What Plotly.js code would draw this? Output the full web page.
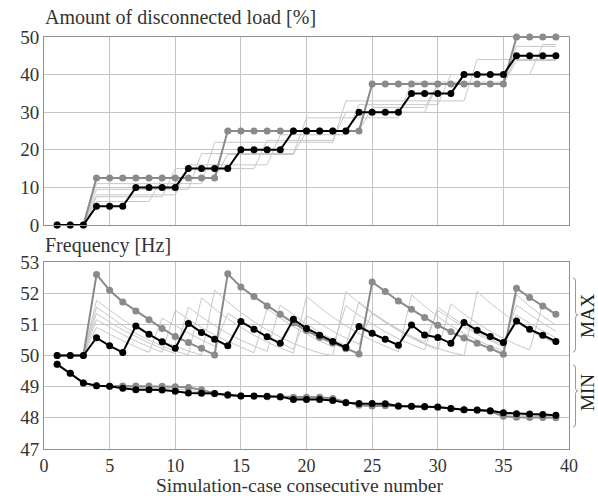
<!DOCTYPE html>
<html>
<head>
<meta charset="utf-8">
<script src="https://cdn.plot.ly/plotly-3.0.1.min.js"></script>
<style>
  html, body { margin: 0; padding: 0; background: #fff; }
  #chart { width: 598px; height: 496px; }
</style>
</head>
<body>
<div id="chart"></div>
<script>
// Simulation cases
const cases = [1,2,3,4,5,6,7,8,9,10,11,12,13,14,15,16,17,18,19,20,21,22,23,24,25,26,27,28,29,30,31,32,33,34,35,36,37,38,39];

// Amount of disconnected load [%]
const loadBlack = [0,0,0, 5,5,5, 10,10,10,10, 15,15,15,15, 20,20,20,20, 25,25,25,25,25, 30,30,30,30, 35,35,35,35, 40,40,40,40, 45,45,45,45];
const loadGray = [0,0,0, 12.5,12.5,12.5,12.5,12.5,12.5,12.5,12.5,12.5,12.5, 25,25,25,25,25,25,25,25,25,25,25, 37.5,37.5,37.5,37.5,37.5,37.5,37.5,37.5,37.5,37.5,37.5, 50,50,50,50];
const loadThinA = [0,0,0, 6.25,6.25,6.25,6.25,6.25, 12.5,12.5,12.5,12.5,12.5, 18.75,18.75,18.75,18.75,18.75,18.75, 25,25,25,25,25, 31.25,31.25,31.25,31.25,31.25, 37.5,37.5,37.5,37.5,37.5,37.5, 43.75,43.75,43.75,43.75];
const loadThinB = [0,0,0, 7.5,7.5,7.5,7.5,7.5,7.5, 15,15,15,15,15,15,15, 22.5,22.5,22.5,22.5,22.5,22.5, 30,30,30,30,30,30,30, 37.5,37.5,37.5,37.5,37.5,37.5, 45,45,45,45];
const loadThinC = [0,0,0, 8,8,8,8,8,8,8, 16,16,16,16,16,16,16, 24,24,24,24,24,24, 32,32,32,32,32,32,32, 40,40,40,40,40,40,40, 48,48];
const loadThinD = [0,0,0, 9.5,9.5,9.5,9.5,9.5,9.5,9.5,9.5, 19,19,19,19,19,19,19,19, 28.5,28.5,28.5,28.5,28.5,28.5,28.5,28.5, 38,38,38,38,38,38,38,38, 47.5,47.5,47.5,47.5];
const loadThinE = [0,0,0, 11,11,11,11,11,11,11,11,11, 22,22,22,22,22,22,22,22,22,22, 33,33,33,33,33,33,33,33,33,33, 44,44,44,44,44,44,44];

// Frequency [Hz] - maximum values
const fMaxBlack = [50,50,50, 50.57,50.31,50.10, 50.95,50.68,50.44,50.23, 51.03,50.74,50.52,50.31, 51.09,50.84,50.60,50.39, 51.16,50.87,50.65,50.45,50.26, 50.93,50.71,50.52,50.33, 50.98,50.66,50.58,50.39, 51.06,50.81,50.61,50.42, 51.11,50.84,50.65,50.45];
const fMaxGray = [50,50,50, 52.60,52.09,51.72,51.43,51.15,50.87,50.61,50.42,50.23,50.02, 52.62,52.20,51.89,51.59,51.32,51.05,50.80,50.58,50.40,50.22,50.05, 52.36,52.05,51.75,51.48,51.22,50.97,50.76,50.56,50.39,50.23,50.04, 52.16,51.86,51.59,51.32];
const fMaxThinA = [50,50,50, 50.90,50.68,50.47,50.28,50.10, 51.20,50.95,50.72,50.50,50.30, 51.35,51.08,50.83,50.60,50.39,50.20, 51.28,51.02,50.78,50.56,50.36, 51.38,51.10,50.85,50.62,50.42, 51.45,51.17,50.91,50.68,50.47,50.28, 51.30,51.03,50.79,50.57];
const fMaxThinB = [50,50,50, 51.15,50.90,50.67,50.46,50.27,50.10, 51.45,51.16,50.90,50.66,50.45,50.26,50.09, 51.50,51.20,50.93,50.69,50.47,50.28, 51.60,51.29,51.01,50.76,50.54,50.35,50.18, 51.55,51.25,50.98,50.74,50.53,50.34, 51.62,51.31,51.03,50.78];
const fMaxThinC = [50,50,50, 51.35,51.07,50.82,50.60,50.40,50.22,50.06, 51.55,51.24,50.96,50.71,50.49,50.30,50.13, 51.62,51.30,51.01,50.75,50.52,50.32, 51.72,51.38,51.08,50.81,50.57,50.36,50.18, 51.66,51.33,51.04,50.78,50.55,50.35,50.18, 51.65,51.32];
const fMaxThinD = [50,50,50, 51.55,51.24,50.96,50.71,50.49,50.30,50.14,50.02, 51.85,51.50,51.18,50.90,50.65,50.43,50.24,50.08, 51.90,51.55,51.23,50.95,50.70,50.48,50.29,50.12, 51.95,51.58,51.25,50.96,50.71,50.49,50.30,50.14, 51.95,51.58,51.26,50.98];
const fMaxThinE = [50,50,50, 51.77,51.45,51.15,50.89,50.66,50.46,50.29,50.14,50.02, 52.10,51.72,51.38,51.08,50.82,50.59,50.39,50.22,50.08,50.00, 52.05,51.68,51.35,51.06,50.80,50.58,50.39,50.23,50.10,50.00, 52.05,51.68,51.35,51.06,50.80,50.58,50.39];

// Frequency [Hz] - minimum values
const fMinBlack = [49.72,49.43,49.12,49.03,49.01,48.95,48.90,48.90,48.89,48.85,48.80,48.79,48.78,48.74,48.70,48.70,48.69,48.68,48.59,48.59,48.59,48.56,48.48,48.46,48.46,48.45,48.38,48.37,48.36,48.35,48.30,48.26,48.25,48.23,48.16,48.13,48.12,48.11,48.08];
const fMinGray = [49.72,49.43,49.12,49.03,49.01,49.02,49.02,49.02,49.01,49.00,48.97,48.90,48.78,48.72,48.70,48.69,48.68,48.67,48.66,48.66,48.66,48.62,48.50,48.40,48.38,48.39,48.37,48.36,48.35,48.34,48.30,48.26,48.24,48.21,48.05,48.02,48.01,48.01,48.00];
const fMinThin = [49.72,49.43,49.12,49.03,49.01,48.99,48.97,48.96,48.95,48.93,48.88,48.84,48.78,48.73,48.70,48.69,48.68,48.67,48.62,48.62,48.62,48.59,48.50,48.44,48.42,48.42,48.38,48.37,48.36,48.35,48.30,48.26,48.24,48.22,48.12,48.08,48.07,48.06,48.05];

// Axis tick values
const xTicks = [0,5,10,15,20,25,30,35,40];
const loadTicks = [0,10,20,30,40,50];
const freqTicks = [47,48,49,50,51,52,53];

const FONT = 'Liberation Serif';
const THIN = '#c8c8c8', GRAY = '#8a8a8a', BLACK = '#000000';

function thin(y, xa, ya) {
  return { x: cases, y: y, xaxis: xa, yaxis: ya, type: 'scatter', mode: 'lines',
           line: { color: THIN, width: 1 }, hoverinfo: 'skip', cliponaxis: false };
}
function marked(y, xa, ya, color) {
  return { x: cases, y: y, xaxis: xa, yaxis: ya, type: 'scatter', mode: 'lines+markers',
           line: { color: color, width: 2 }, marker: { color: color, size: 7 }, cliponaxis: false };
}

const traces = [
  thin(loadThinA, 'x2', 'y2'), thin(loadThinB, 'x2', 'y2'), thin(loadThinC, 'x2', 'y2'),
  thin(loadThinD, 'x2', 'y2'), thin(loadThinE, 'x2', 'y2'),
  marked(loadGray, 'x2', 'y2', GRAY), marked(loadBlack, 'x2', 'y2', BLACK),
  thin(fMaxThinA, 'x', 'y'), thin(fMaxThinB, 'x', 'y'), thin(fMaxThinC, 'x', 'y'),
  thin(fMaxThinD, 'x', 'y'), thin(fMaxThinE, 'x', 'y'), thin(fMinThin, 'x', 'y'),
  marked(fMaxGray, 'x', 'y', GRAY), marked(fMinGray, 'x', 'y', GRAY),
  marked(fMaxBlack, 'x', 'y', BLACK), marked(fMinBlack, 'x', 'y', BLACK)
];

// plot area geometry (pixels)
const L = 44, R = 569, T = 37, B = 449;
const W = 598, H = 496;
const px2x = p => (p - L) / (R - L);
const px2y = p => (B - p) / (B - T);

// curly brace pointing right, drawn in paper coordinates
function brace(top, bot, tip, x0) {
  const xm = x0 + 2.5, xt = x0 + 5;
  const pts = [
    ['M', x0, top], ['Q', xm, top, xm, top + 3], ['L', xm, tip - 4],
    ['Q', xm, tip, xt, tip], ['Q', xm, tip, xm, tip + 4], ['L', xm, bot - 3],
    ['Q', xm, bot, x0, bot]
  ];
  return pts.map(s => {
    const cmd = s[0];
    const c = [];
    for (let i = 1; i < s.length; i += 2) c.push(px2x(s[i]).toFixed(5) + ',' + px2y(s[i + 1]).toFixed(5));
    return cmd + ' ' + c.join(' ');
  }).join(' ');
}

const tickFont = { family: FONT, size: 19, color: '#333' };
const axisCommon = {
  range: [0, 40], tickvals: xTicks, showgrid: true, gridcolor: '#c4c4c4', gridwidth: 1,
  showline: true, mirror: true, linecolor: '#8f8f8f', linewidth: 1, zeroline: false,
  ticks: '', tickfont: { family: FONT, size: 18, color: '#333' }
};

const layout = {
  width: W, height: H,
  margin: { l: L, r: W - R, t: T, b: H - B },
  paper_bgcolor: '#ffffff', plot_bgcolor: '#ffffff',
  showlegend: false,
  font: { family: FONT, size: 20, color: '#333' },
  xaxis: Object.assign({}, axisCommon, { anchor: 'y', domain: [0, 1] }),
  xaxis2: Object.assign({}, axisCommon, { anchor: 'y2', domain: [0, 1], showticklabels: false }),
  yaxis: {
    domain: [0, px2y(262)], range: [47, 53], tickvals: freqTicks, anchor: 'x',
    showgrid: true, gridcolor: '#c4c4c4', showline: true, mirror: true, linecolor: '#8f8f8f',
    zeroline: false, ticks: '', tickfont: tickFont
  },
  yaxis2: {
    domain: [px2y(225), 1], range: [0, 50], tickvals: loadTicks, anchor: 'x2',
    showgrid: true, gridcolor: '#c4c4c4', showline: true, mirror: true, linecolor: '#8f8f8f',
    zeroline: false, ticks: '', tickfont: tickFont
  },
  shapes: [
    { type: 'path', xref: 'paper', yref: 'paper', path: brace(278, 352, 315, 573), line: { color: '#999', width: 1 } },
    { type: 'path', xref: 'paper', yref: 'paper', path: brace(365, 427, 391, 573), line: { color: '#999', width: 1 } }
  ],
  annotations: [
    { text: 'Amount of disconnected load [%]', xref: 'paper', yref: 'paper', x: px2x(43), y: px2y(17),
      xanchor: 'left', yanchor: 'middle', showarrow: false, font: { family: FONT, size: 20, color: '#333' } },
    { text: 'Frequency [Hz]', xref: 'paper', yref: 'paper', x: px2x(43), y: px2y(245),
      xanchor: 'left', yanchor: 'middle', showarrow: false, font: { family: FONT, size: 20, color: '#333' } },
    { text: 'Simulation-case consecutive number', xref: 'paper', yref: 'paper', x: px2x(300), y: px2y(485),
      xanchor: 'center', yanchor: 'middle', showarrow: false, font: { family: FONT, size: 19.5, color: '#333' } },
    { text: 'MAX', xref: 'paper', yref: 'paper', x: px2x(587), y: px2y(316), textangle: -90,
      xanchor: 'center', yanchor: 'middle', showarrow: false, font: { family: FONT, size: 19, color: '#222' } },
    { text: 'MIN', xref: 'paper', yref: 'paper', x: px2x(587), y: px2y(393), textangle: -90,
      xanchor: 'center', yanchor: 'middle', showarrow: false, font: { family: FONT, size: 19, color: '#222' } }
  ]
};

Plotly.newPlot('chart', traces, layout, { staticPlot: true, displayModeBar: false });
</script>
</body>
</html>
